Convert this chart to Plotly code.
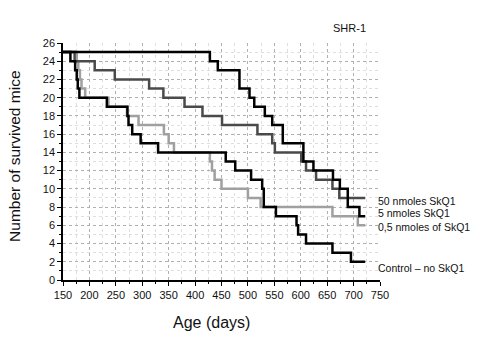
import plotly.graph_objects as go

# Step data (age in days where each step starts, number of surviving mice)
days_5 = [150, 428, 443, 484, 503, 512, 532, 546, 566, 605, 624, 661, 674, 689, 711, 722]
mice_5 = [25, 24, 23, 21, 20, 19, 18, 17, 15, 13, 12, 11, 10, 8, 7, 7]

days_50 = [150, 172, 210, 248, 313, 340, 380, 414, 451, 518, 546, 551, 601, 610, 629, 660, 673, 722]
mice_50 = [25, 24, 23, 22, 21, 20, 19, 18, 17, 16, 15, 14, 13, 12, 11, 10, 9, 9]

days_05 = [150, 176, 179, 182, 185, 192, 236, 271, 293, 341, 350, 360, 428, 432, 437, 450, 500, 524, 660, 708, 722]
mice_05 = [25, 24, 23, 22, 21, 20, 19, 18, 17, 16, 15, 14, 13, 12, 11, 10, 9, 8, 7, 6, 6]

days_ctrl = [150, 164, 173, 176, 178, 181, 233, 272, 274, 281, 297, 330, 458, 476, 506, 527, 530, 553, 592, 595, 610, 660, 695, 722]
mice_ctrl = [25, 24, 23, 22, 21, 20, 19, 18, 17, 16, 15, 14, 13, 12, 11, 10, 8, 7, 6, 5, 4, 3, 2, 2]

labels = ["50 nmoles SkQ1", "5 nmoles SkQ1", "0,5 nmoles of SkQ1", "Control \u2013 no SkQ1"]
label_y = [8.7, 7.3, 5.8, 1.3]

FONT = "Liberation Sans, Arial, sans-serif"

fig = go.Figure()
fig.add_trace(go.Scatter(x=days_05, y=mice_05, mode="lines", line=dict(shape="hv", color="#a0a0a0", width=2.5)))
fig.add_trace(go.Scatter(x=days_50, y=mice_50, mode="lines", line=dict(shape="hv", color="#4a4a4a", width=2.5)))
fig.add_trace(go.Scatter(x=days_ctrl, y=mice_ctrl, mode="lines", line=dict(shape="hv", color="#000000", width=2.5)))
fig.add_trace(go.Scatter(x=days_5, y=mice_5, mode="lines", line=dict(shape="hv", color="#000000", width=2.5)))

for t, yv in zip(labels, label_y):
    fig.add_annotation(x=742, y=yv, xref="x", yref="y", text=t, showarrow=False,
                       xanchor="left", yanchor="middle", font=dict(size=10.5, color="#111", family=FONT))

fig.add_annotation(x=0.905, y=1.063, xref="paper", yref="paper", text="SHR-1", showarrow=False,
                   xanchor="center", yanchor="middle", font=dict(size=11, color="#111", family=FONT))
fig.add_annotation(x=-0.155, y=0.523, xref="paper", yref="paper", text="Number of survived mice",
                   textangle=-90, showarrow=False, xanchor="center", yanchor="middle",
                   font=dict(size=15.5, color="#111", family=FONT))
fig.add_annotation(x=0.468, y=-0.181, xref="paper", yref="paper", text="Age (days)", showarrow=False,
                   xanchor="center", yanchor="middle", font=dict(size=16, color="#111", family=FONT))

axis_common = dict(showline=True, linecolor="black", linewidth=1.5, ticks="outside", ticklen=4,
                   tickwidth=1.2, tickcolor="black", showgrid=True, gridcolor="#b0b0b0", griddash="dot",
                   gridwidth=1, zeroline=False, tickfont=dict(size=11, color="#111", family=FONT))

fig.update_xaxes(range=[150, 750], dtick=50, tick0=150,
                 minor=dict(dtick=25, ticks="outside", ticklen=2, tickcolor="black", showgrid=True,
                            gridcolor="#dedede", griddash="dot"),
                 **axis_common)
fig.update_yaxes(range=[0, 26], dtick=2, tick0=0,
                 minor=dict(dtick=1, ticks="outside", ticklen=2, tickcolor="black", showgrid=True,
                            gridcolor="#dedede", griddash="dot"),
                 **axis_common)

fig.update_layout(width=480, height=353, margin=dict(l=63, r=100, t=43, b=73),
                  paper_bgcolor="white", plot_bgcolor="white", showlegend=False,
                  font=dict(family=FONT, color="#111"))

fig.write_html("out.html")
